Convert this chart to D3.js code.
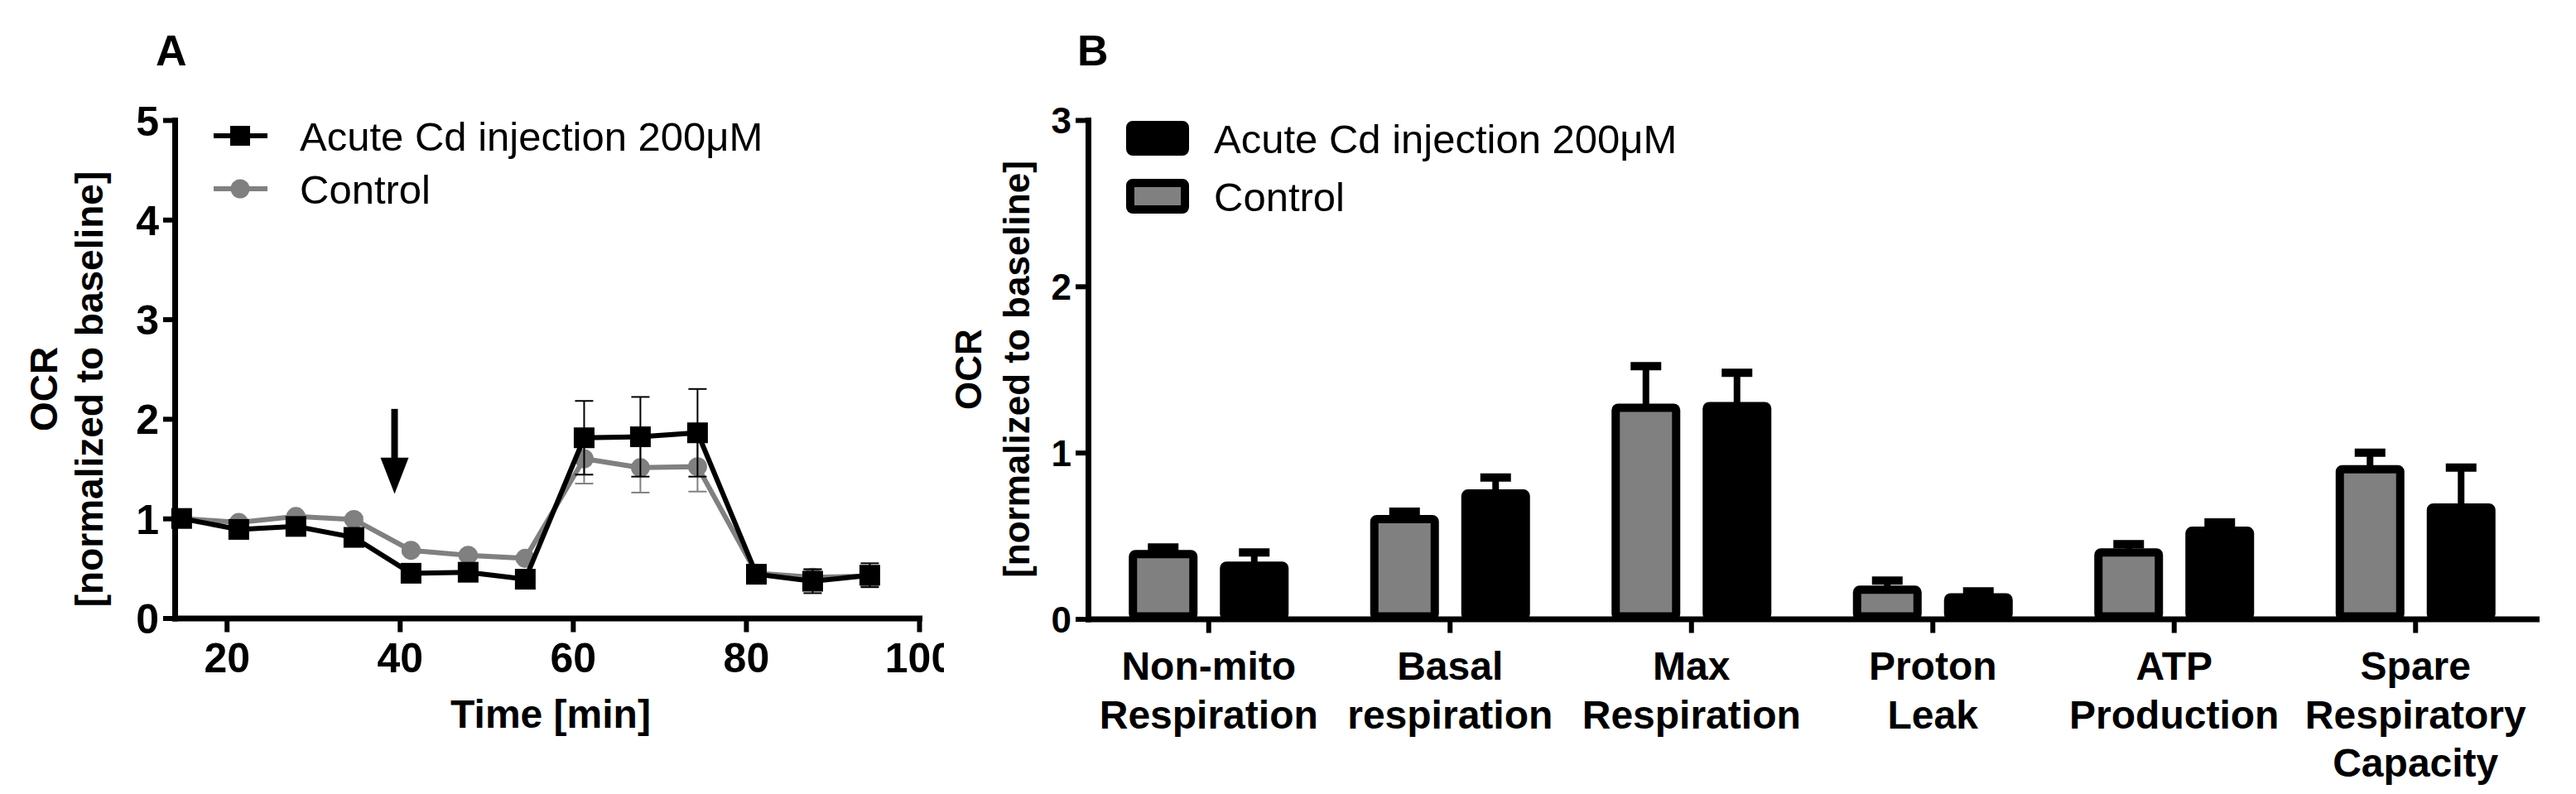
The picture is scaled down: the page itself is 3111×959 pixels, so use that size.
<!DOCTYPE html>
<html><head><meta charset="utf-8">
<script src="https://cdn.jsdelivr.net/npm/d3@7"></script>
<style>
html,body{margin:0;padding:0;background:#fff;}
svg{display:block;}
text{font-family:"Liberation Sans",Arial,Helvetica,sans-serif;fill:#000;}
</style>
</head><body>
<svg id="chart" width="3111" height="959"></svg>
<script>
// ---------- Panel A data ----------
const timeMin  = [14.8, 21.4, 28.0, 34.7, 41.3, 47.9, 54.5, 61.3, 67.8, 74.4, 81.2, 87.7, 94.3];
const cdMean   = [1.00, 0.89, 0.92, 0.81, 0.45, 0.46, 0.39, 1.81, 1.82, 1.86, 0.44, 0.37, 0.43];
const cdErr    = [0.02, 0.03, 0.03, 0.04, 0.03, 0.03, 0.03, 0.37, 0.40, 0.44, 0.04, 0.12, 0.12];
const ctrlMean = [1.00, 0.96, 1.02, 0.99, 0.68, 0.63, 0.60, 1.60, 1.51, 1.52, 0.45, 0.41, 0.42];
const ctrlErr  = [0.02, 0.03, 0.03, 0.03, 0.03, 0.03, 0.03, 0.25, 0.25, 0.25, 0.04, 0.08, 0.10];
const xTicksA  = [20, 40, 60, 80, 100];
const yTicksA  = [0, 1, 2, 3, 4, 5];
const arrowAt  = {x: 39.4, yTop: 2.10, yHead: 1.61, yTip: 1.246};

// ---------- Panel B data ----------
const categories = [["Non-mito","Respiration"],["Basal","respiration"],["Max","Respiration"],
                    ["Proton","Leak"],["ATP","Production"],["Spare","Respiratory","Capacity"]];
const ctrlBar    = [0.39, 0.60, 1.27, 0.175, 0.40, 0.90];
const ctrlBarErr = [0.04, 0.045, 0.25, 0.055, 0.05, 0.10];
const cdBar      = [0.32, 0.754, 1.28, 0.13, 0.53, 0.67];
const cdBarErr   = [0.08, 0.096, 0.20, 0.035, 0.05, 0.24];
const yTicksB    = [0, 1, 2, 3];
const seriesNames = ["Acute Cd injection 200μM", "Control"];
const GRAY = "#808080";

const svg = d3.select("#chart");
svg.append("rect").attr("width",3111).attr("height",959).attr("fill","#fff");

// ================= PANEL A =================
const xA = d3.scaleLinear().domain([14, 100]).range([211, 1110]);
const yA = d3.scaleLinear().domain([0, 5]).range([746.5, 145]);

svg.append("defs").append("clipPath").attr("id","clipA")
  .append("rect").attr("x",0).attr("y",0).attr("width",1140).attr("height",959);
const gA = svg.append("g").attr("clip-path","url(#clipA)");

gA.append("text").attr("x",188).attr("y",79).attr("font-size",52).attr("font-weight","bold").text("A");

function drawSeries(mean, err, color, marker) {
  const g = gA.append("g");
  const eb = g.selectAll("g.eb").data(timeMin).join("g");
  eb.append("line").attr("x1",(d)=>xA(d)).attr("x2",(d)=>xA(d))
    .attr("y1",(d,i)=>yA(mean[i]-err[i])).attr("y2",(d,i)=>yA(mean[i]+err[i]))
    .attr("stroke",color).attr("stroke-width",2);
  [1,-1].forEach(s=>{
    eb.append("line").attr("x1",(d)=>xA(d)-11).attr("x2",(d)=>xA(d)+11)
      .attr("y1",(d,i)=>yA(mean[i]+s*err[i])).attr("y2",(d,i)=>yA(mean[i]+s*err[i]))
      .attr("stroke",color).attr("stroke-width",2);
  });
  const line = d3.line().x((d)=>xA(d)).y((d,i)=>yA(mean[i]));
  g.append("path").attr("d",line(timeMin)).attr("fill","none").attr("stroke",color)
    .attr("stroke-width",6).attr("stroke-linejoin","miter");
  if (marker === "square") {
    g.selectAll("rect.m").data(timeMin).join("rect")
      .attr("x",(d)=>xA(d)-12.5).attr("y",(d,i)=>yA(mean[i])-12.5)
      .attr("width",25).attr("height",25).attr("fill",color);
  } else {
    g.selectAll("circle.m").data(timeMin).join("circle")
      .attr("cx",(d)=>xA(d)).attr("cy",(d,i)=>yA(mean[i])).attr("r",11.5).attr("fill",color);
  }
}
drawSeries(ctrlMean, ctrlErr, GRAY, "circle");
drawSeries(cdMean, cdErr, "#000", "square");

const ax = xA(arrowAt.x);
gA.append("line").attr("x1",ax).attr("x2",ax).attr("y1",yA(arrowAt.yTop)).attr("y2",yA(arrowAt.yHead)+2)
  .attr("stroke","#000").attr("stroke-width",8);
gA.append("path").attr("d",`M${ax-17},${yA(arrowAt.yHead)}L${ax+17},${yA(arrowAt.yHead)}L${ax},${yA(arrowAt.yTip)}Z`)
  .attr("fill","#000");

function styleAxis(g, size){
  g.select(".domain").attr("stroke","#000").attr("stroke-width",7).attr("stroke-linecap","square");
  g.selectAll(".tick line").attr("stroke","#000").attr("stroke-width",6);
  g.selectAll(".tick text").attr("font-size",size).attr("font-weight","bold")
    .attr("font-family","'Liberation Sans',Arial,sans-serif").attr("fill","#000");
}
const fmt = d3.format("d");
const xAxisA = gA.append("g").attr("transform","translate(0,746.5)")
  .call(d3.axisBottom(xA).tickValues(xTicksA).tickFormat(fmt).tickSize(17).tickSizeOuter(0).tickPadding(13));
styleAxis(xAxisA, 50);
const yAxisA = gA.append("g").attr("transform","translate(211,0)")
  .call(d3.axisLeft(yA).tickValues(yTicksA).tickFormat(fmt).tickSize(14).tickSizeOuter(0).tickPadding(5));
styleAxis(yAxisA, 50);
yAxisA.selectAll(".tick text").attr("dy","0.36em");

gA.append("text").attr("x",665).attr("y",879).attr("text-anchor","middle")
  .attr("font-size",48).attr("font-weight","bold").text("Time [min]");
gA.append("text").attr("transform","translate(69,470) rotate(-90)").attr("text-anchor","middle")
  .attr("font-size",46).attr("font-weight","bold").text("OCR");
gA.append("text").attr("transform","translate(124,470) rotate(-90)").attr("text-anchor","middle")
  .attr("font-size",46).attr("font-weight","bold").text("[normalized to baseline]");

const legA = gA.append("g");
[[164,"#000","square"],[228,GRAY,"circle"]].forEach(([y,c,m],i)=>{
  legA.append("line").attr("x1",258).attr("x2",323).attr("y1",y).attr("y2",y).attr("stroke",c).attr("stroke-width",6);
  if (m==="square") legA.append("rect").attr("x",278).attr("y",y-12).attr("width",24).attr("height",24).attr("fill",c);
  else legA.append("circle").attr("cx",290).attr("cy",y).attr("r",11.5).attr("fill",c);
  legA.append("text").attr("x",362).attr("y",y+17.5).attr("font-size",49).text(seriesNames[i]);
});

// ================= PANEL B =================
const gB = svg.append("g");
gB.append("text").attr("x",1301).attr("y",79).attr("font-size",52).attr("font-weight","bold").text("B");

const catIdx = categories.map((c,i)=>i);
const xB = d3.scaleBand().domain(catIdx).range([1314, 3063]).padding(0);
const xSub = d3.scalePoint().domain(["ctrl","cd"]).range([-55, 55]);
const yB = d3.scaleLinear().domain([0, 3]).range([747.5, 145]);
const barW = 73;

const barSeries = [
  {key:"ctrl", vals: ctrlBar, errs: ctrlBarErr, fill: GRAY},
  {key:"cd",   vals: cdBar,   errs: cdBarErr,   fill: "#000"}
];
barSeries.forEach(s=>{
  const g = gB.append("g");
  const cx = (i)=>xB(i)+xB.bandwidth()/2+xSub(s.key);
  g.selectAll("line.stem").data(catIdx).join("line")
    .attr("x1",cx).attr("x2",cx).attr("y1",(i)=>yB(s.vals[i])).attr("y2",(i)=>yB(s.vals[i]+s.errs[i]))
    .attr("stroke","#000").attr("stroke-width",8);
  g.selectAll("line.cap").data(catIdx).join("line")
    .attr("x1",(i)=>cx(i)-18.5).attr("x2",(i)=>cx(i)+18.5)
    .attr("y1",(i)=>yB(s.vals[i]+s.errs[i])).attr("y2",(i)=>yB(s.vals[i]+s.errs[i]))
    .attr("stroke","#000").attr("stroke-width",10);
  g.selectAll("rect.bar").data(catIdx).join("rect")
    .attr("x",(i)=>cx(i)-barW/2).attr("width",barW)
    .attr("y",(i)=>yB(s.vals[i])).attr("height",(i)=>yB(0)-yB(s.vals[i])-3)
    .attr("rx",3).attr("fill",s.fill).attr("stroke","#000").attr("stroke-width",10);
});

const xAxisB = gB.append("g").attr("transform","translate(0,747.5)")
  .call(d3.axisBottom(xB).tickSize(17).tickSizeOuter(0).tickFormat(""));
styleAxis(xAxisB, 40);
const yAxisB = gB.append("g").attr("transform","translate(1314,0)")
  .call(d3.axisLeft(yB).tickValues(yTicksB).tickFormat(fmt).tickSize(15).tickSizeOuter(0).tickPadding(5));
styleAxis(yAxisB, 44);
yAxisB.selectAll(".tick text").attr("dy","0.36em");

const lab = gB.selectAll("text.cat").data(catIdx).join("text")
  .attr("text-anchor","middle").attr("font-size",48).attr("font-weight","bold");
lab.each(function(i){
  const t = d3.select(this);
  categories[i].forEach((ln,k)=>{
    t.append("tspan").attr("x",xB(i)+xB.bandwidth()/2).attr("y",821+k*58.5).text(ln);
  });
});

gB.append("text").attr("transform","translate(1185,446) rotate(-90)").attr("text-anchor","middle")
  .attr("font-size",44).attr("font-weight","bold").text("OCR");
gB.append("text").attr("transform","translate(1243,446) rotate(-90)").attr("text-anchor","middle")
  .attr("font-size",44).attr("font-weight","bold").text("[normalized to baseline]");

[[146,"#000"],[216,GRAY]].forEach(([y,c],i)=>{
  gB.append("rect").attr("x",1365).attr("y",y+5).attr("width",66).attr("height",32).attr("rx",3)
    .attr("fill",c).attr("stroke","#000").attr("stroke-width",10);
  gB.append("text").attr("x",1466).attr("y",y+21+17.5).attr("font-size",49).text(seriesNames[i]);
});
</script>
</body></html>
